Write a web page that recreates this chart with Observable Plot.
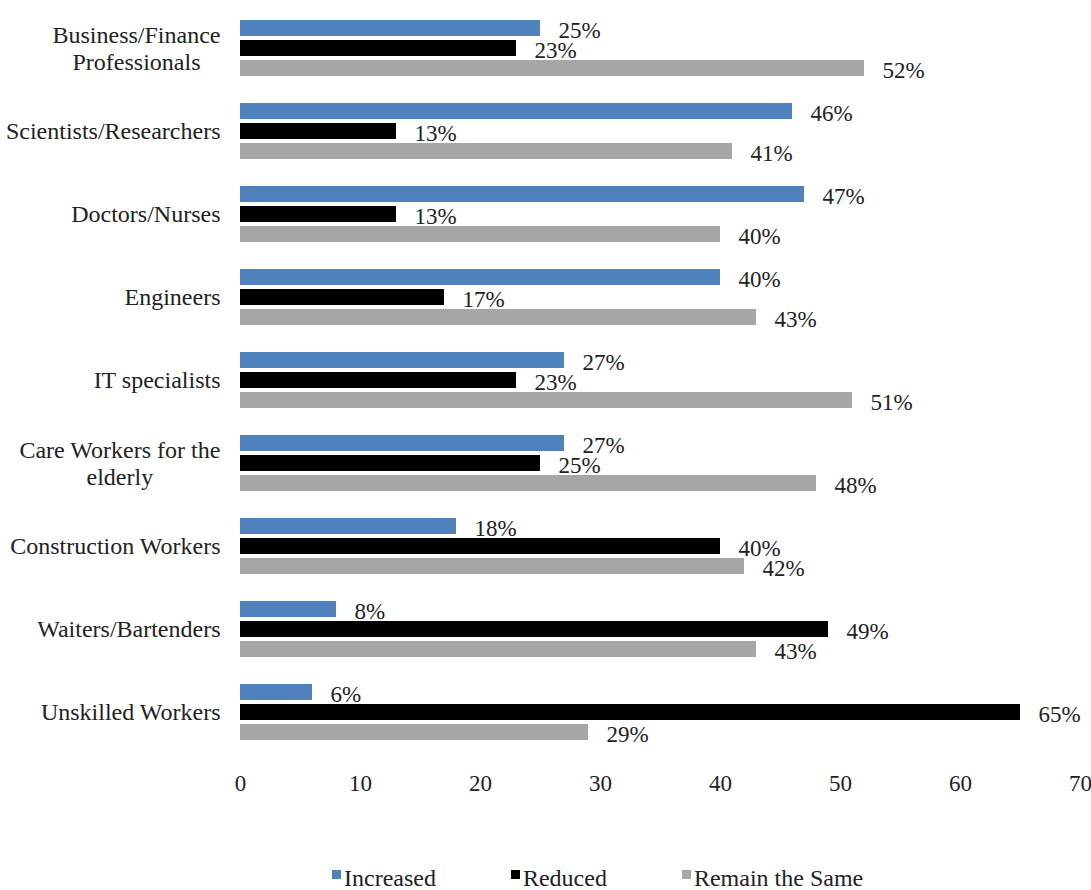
<!DOCTYPE html>
<html>
<head>
<meta charset="utf-8">
<script src="https://cdn.jsdelivr.net/npm/d3@7"></script>
<script src="https://cdn.jsdelivr.net/npm/@observablehq/plot@0.6"></script>
<style>
  body { margin: 0; background: #fff; }
  #chart svg { display: block; }
  #legend { display: flex; align-items: center; height: 36px; padding-left: 332px;
            font-family: "Liberation Serif", "Times New Roman", Times, serif; font-size: 24px; color: #222; }
  .item { display: flex; align-items: flex-start; margin-right: 75px; }
  .sw { width: 9px; height: 9px; margin-right: 3px; margin-top: 5px; }
</style>
</head>
<body>
<div id="chart"></div>
<div id="legend"></div>
<script>
const categories = [
  "Business/Finance\nProfessionals",
  "Scientists/Researchers",
  "Doctors/Nurses",
  "Engineers",
  "IT specialists",
  "Care Workers for the\nelderly",
  "Construction Workers",
  "Waiters/Bartenders",
  "Unskilled Workers"
];
const series = ["Increased", "Reduced", "Remain the Same"];
const increased  = [25, 46, 47, 40, 27, 27, 18, 8, 6];
const reduced    = [23, 13, 13, 17, 23, 25, 40, 49, 65];
const remainSame = [52, 41, 40, 43, 51, 48, 42, 43, 29];
const xTicks = [0, 10, 20, 30, 40, 50, 60, 70];
const colors = ["#4F81BD", "#000000", "#A6A6A6"];

const seriesValues = [increased, reduced, remainSame];
const data = categories.flatMap((c, i) =>
  series.map((s, j) => ({occupation: c, series: s, value: seriesValues[j][i]}))
);

const fontStack = "'Liberation Serif', 'Times New Roman', Times, serif";
const canvas = document.createElement("canvas");
const ctx = canvas.getContext("2d");
ctx.font = "24px " + fontStack;
const singleLine = categories.filter(c => !c.includes("\n"));
const multiLine = categories.filter(c => c.includes("\n"));

const axisCommon = {anchor: "left", tickSize: 0, tickPadding: 20, fontSize: 24, label: null, fill: "#222"};

const chart = Plot.plot({
  width: 1091,
  height: 860,
  marginLeft: 240,
  marginRight: 11,
  marginTop: 2,
  marginBottom: 104,
  style: {fontFamily: fontStack, fontSize: "23px", color: "#222", background: "#fff"},
  x: {domain: [0, 70]},
  fy: {domain: categories, padding: 0, label: null},
  y: {domain: series, paddingInner: 0.22, paddingOuter: 0.65, axis: null},
  color: {domain: series, range: colors},
  marks: [
    Plot.barX(data, {fy: "occupation", y: "series", x: "value", fill: "series"}),
    Plot.text(data, {fy: "occupation", y: "series", x: "value", text: d => d.value + "%",
      textAnchor: "start", dx: 18, dy: 2, fontSize: 23, fill: "#222"}),
    Plot.axisX({anchor: "bottom", ticks: xTicks, tickSize: 0, tickPadding: 21, fontSize: 23, label: null, fill: "#222"}),
    Plot.axisFy({...axisCommon, ticks: singleLine}),
    ...multiLine.map(c => {
      const w = Math.max(...c.split("\n").map(l => ctx.measureText(l).width));
      return Plot.axisFy({...axisCommon, ticks: [c], textAnchor: "middle", dx: -w / 2, lineHeight: 1.1});
    })
  ]
});
document.getElementById("chart").appendChild(chart);

const legend = document.getElementById("legend");
series.forEach((s, i) => {
  const item = document.createElement("div");
  item.className = "item";
  const sw = document.createElement("span");
  sw.className = "sw";
  sw.style.background = colors[i];
  const t = document.createElement("span");
  t.textContent = s;
  item.appendChild(sw);
  item.appendChild(t);
  legend.appendChild(item);
});
</script>
</body>
</html>
